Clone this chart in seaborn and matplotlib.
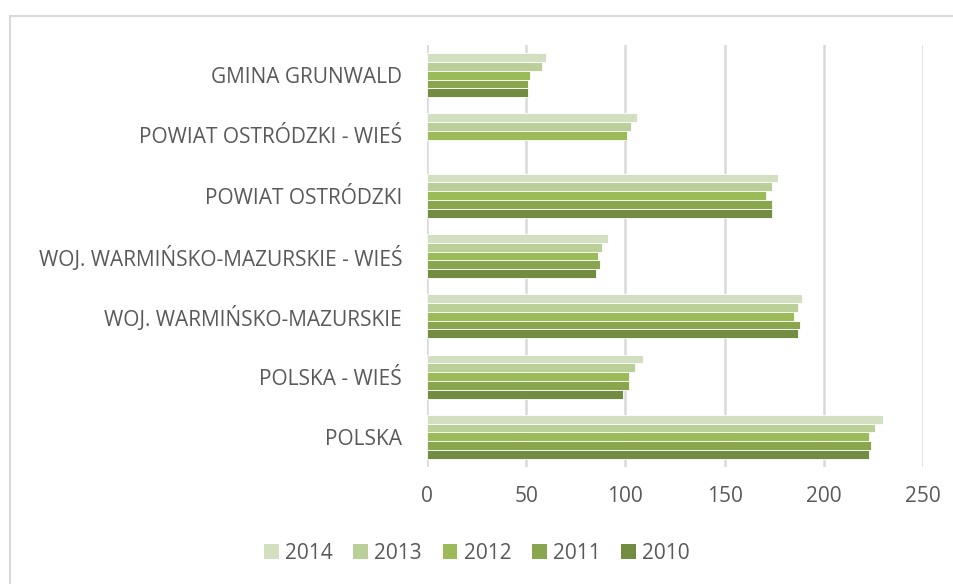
import pandas as pd
import numpy as np
import matplotlib
matplotlib.use('Agg')
import matplotlib.pyplot as plt
import seaborn as sns
from matplotlib.lines import Line2D
from matplotlib.patches import Patch

# --- data ---
categories = [
    "GMINA GRUNWALD",
    "POWIAT OSTRÓDZKI - WIEŚ",
    "POWIAT OSTRÓDZKI",
    "WOJ. WARMIŃSKO-MAZURSKIE - WIEŚ",
    "WOJ. WARMIŃSKO-MAZURSKIE",
    "POLSKA - WIEŚ",
    "POLSKA",
]
years = ["2014", "2013", "2012", "2011", "2010"]
v2014 = [60, 106, 177, 91, 189, 109, 230]
v2013 = [58, 103, 174, 88, 187, 105, 226]
v2012 = [52, 101, 171, 86, 185, 102, 223]
v2011 = [51, np.nan, 174, 87, 188, 102, 224]
v2010 = [51, np.nan, 174, 85, 187, 99, 223]
xticks = [0, 50, 100, 150, 200, 250]

colors = ["#D2DFC0", "#BBCF99", "#9BBB59", "#89A64F", "#728C42"]
text_col = "#595959"
grid_col = "#D9D9D9"

series = dict(zip(years, [v2014, v2013, v2012, v2011, v2010]))
rows = []
for y in years:
    for c, v in zip(categories, series[y]):
        rows.append({"kategoria": c, "rok": y, "wartosc": v})
df = pd.DataFrame(rows)

sns.set_theme(style="white")
plt.rcParams['font.family'] = ['Open Sans', 'DejaVu Sans']

fig = plt.figure(figsize=(9.54, 5.84), dpi=100)
ax = fig.add_axes([0.4476, 0.2003, 0.5199, 0.7227])

sns.barplot(data=df, y="kategoria", x="wartosc", hue="rok",
            order=categories, hue_order=years, palette=colors,
            orient="h", width=0.73, gap=0, edgecolor="white",
            linewidth=0.6, saturation=1, errorbar=None, ax=ax, zorder=3)

ax.set_xlim(0, 250)
ax.set_xticks(xticks)
ax.xaxis.grid(True, color=grid_col, linewidth=1.8, zorder=0)
ax.set_axisbelow(True)
for s in ax.spines.values():
    s.set_visible(False)
ax.set_xlabel("")
ax.set_ylabel("")
ax.tick_params(axis="both", length=0, labelsize=15, colors=text_col)
ax.tick_params(axis="x", pad=14)
ax.tick_params(axis="y", pad=18)
ax.get_legend().remove()

handles = [Patch(facecolor=c, edgecolor="none") for c in colors]
fig.legend(handles, years, loc="center", bbox_to_anchor=(0.5, 0.053), ncol=5,
           frameon=False, fontsize=15, labelcolor=text_col,
           handlelength=0.7, handleheight=0.7, handletextpad=0.3,
           columnspacing=1.0)

# outer chart frame (left and top edges visible)
fig.add_artist(Line2D([10 / 954, 10 / 954], [0, 1 - 16 / 584],
                      transform=fig.transFigure, color=grid_col, linewidth=1.5))
fig.add_artist(Line2D([10 / 954, 1], [1 - 16 / 584, 1 - 16 / 584],
                      transform=fig.transFigure, color=grid_col, linewidth=1.5))

fig.savefig("out.png", dpi=100)
